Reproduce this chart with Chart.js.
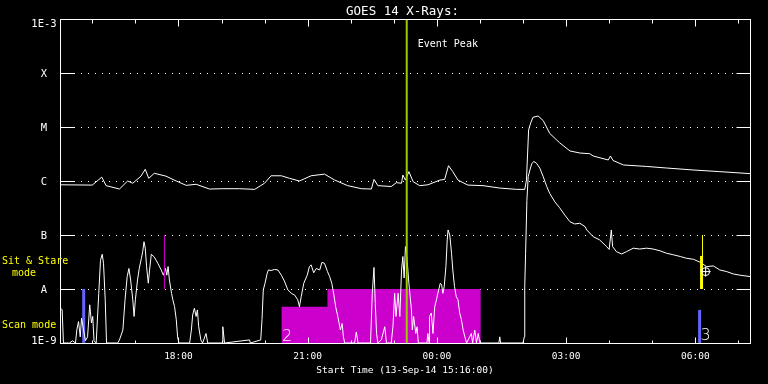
<!DOCTYPE html>
<html>
<head>
<meta charset="utf-8">
<script src="https://cdn.jsdelivr.net/npm/chart.js@4/dist/chart.umd.min.js"></script>
<style>
  html, body { margin: 0; padding: 0; background: #000; }
  canvas { display: block; }
</style>
</head>
<body>
<canvas id="goesChart" width="768" height="384"></canvas>
<script>
// hours of day, continuing past midnight (24 = 00:00 on 14-Sep)
const longTime = [15.24, 16.00, 16.22, 16.32, 16.63, 16.82, 16.94, 17.13, 17.23, 17.31,
    17.44, 17.71, 17.95, 18.18, 18.41, 18.72, 19.03, 19.42, 19.77, 20.00,
    20.15, 20.39, 20.58, 20.81, 21.08, 21.39, 21.63, 21.93, 22.25, 22.48,
    22.54, 22.63, 22.94, 23.06, 23.18, 23.21, 23.27, 23.35, 23.45, 23.60,
    23.79, 24.07, 24.18, 24.27, 24.37, 24.49, 24.72, 25.07, 25.46, 25.85,
    26.04, 26.08, 26.13, 26.17, 26.23, 26.35, 26.47, 26.62, 26.85, 27.09,
    27.32, 27.55, 27.63, 27.98, 28.03, 28.09, 28.33, 28.87, 29.33, 29.95,
    30.57, 31.27];
const longFlux = [8.5e-7, 8.4e-7, 1.18e-6, 8.2e-7, 7.1e-7, 1.0e-6, 9.1e-7, 1.23e-6, 1.65e-6, 1.12e-6,
    1.39e-6, 1.23e-6, 1.0e-6, 8.3e-7, 8.7e-7, 7.1e-7, 7.2e-7, 7.2e-7, 7.0e-7, 9.1e-7,
    1.25e-6, 1.25e-6, 1.12e-6, 1.0e-6, 1.25e-6, 1.34e-6, 1.04e-6, 8.2e-7, 7.2e-7, 7.1e-7,
    1.07e-6, 8.2e-7, 7.9e-7, 9.3e-7, 9.1e-7, 1.29e-6, 1.04e-6, 1.49e-6, 9.7e-7, 8.2e-7,
    8.5e-7, 1.04e-6, 1.07e-6, 1.92e-6, 1.49e-6, 1.04e-6, 8.4e-7, 8.2e-7, 7.4e-7, 7.0e-7,
    7.0e-7, 1.04e-6, 8.8e-6, 1.14e-5, 1.51e-5, 1.6e-5, 1.31e-5, 7.6e-6, 5.1e-6, 3.6e-6,
    3.3e-6, 3.2e-6, 2.9e-6, 2.45e-6, 2.9e-6, 2.4e-6, 1.98e-6, 1.86e-6, 1.74e-6, 1.6e-6,
    1.49e-6, 1.37e-6];

const shortTime = [15.23, 15.30, 15.33, 15.47, 15.54, 15.61, 15.64, 15.68, 15.72, 15.75,
    15.79, 15.84, 15.89, 15.94, 15.98, 16.01, 16.04, 16.09, 16.15, 16.19,
    16.23, 16.26, 16.30, 16.33, 16.59, 16.63, 16.71, 16.76, 16.81, 16.85,
    16.89, 16.94, 16.97, 17.00, 17.05, 17.09, 17.14, 17.17, 17.20, 17.23,
    17.26, 17.30, 17.33, 17.37, 17.44, 17.52, 17.60, 17.65, 17.70, 17.73,
    17.76, 17.79, 17.84, 17.87, 17.91, 17.95, 17.98, 18.01, 18.26, 18.30,
    18.33, 18.37, 18.41, 18.44, 18.47, 18.52, 18.56, 18.64, 18.68, 19.02,
    19.03, 19.07, 19.65, 19.67, 19.91, 19.94, 19.97, 20.01, 20.06, 20.09,
    20.15, 20.23, 20.31, 20.39, 20.46, 20.54, 20.62, 20.70, 20.77, 20.81,
    20.85, 20.91, 20.99, 21.04, 21.08, 21.14, 21.20, 21.28, 21.33, 21.39,
    21.46, 21.51, 21.56, 21.61, 21.65, 21.70, 21.76, 21.80, 21.83, 21.86,
    22.09, 22.13, 22.17, 22.46, 22.50, 22.54, 22.57, 22.60, 22.63, 22.71,
    22.79, 22.83, 22.94, 22.98, 23.02, 23.05, 23.10, 23.14, 23.18, 23.21,
    23.24, 23.27, 23.31, 23.35, 23.38, 23.41, 23.43, 23.46, 23.51, 23.54,
    23.57, 23.77, 23.79, 23.82, 23.83, 23.87, 23.91, 23.95, 23.99, 24.04,
    24.08, 24.11, 24.14, 24.17, 24.21, 24.24, 24.26, 24.30, 24.34, 24.37,
    24.41, 24.45, 24.49, 24.53, 24.57, 24.61, 24.65, 24.69, 24.80, 24.83,
    24.88, 24.92, 24.96, 25.00, 25.44, 25.46, 25.48, 26.00, 26.03, 26.04,
    26.06, 26.09, 26.12, 26.16, 26.20, 26.25, 26.31, 26.39, 26.47, 26.55,
    26.62, 26.74, 26.85, 26.97, 27.09, 27.20, 27.32, 27.44, 27.48, 27.63,
    27.78, 27.94, 28.00, 28.05, 28.08, 28.17, 28.29, 28.40, 28.56, 28.71,
    28.87, 29.02, 29.18, 29.33, 29.49, 29.65, 29.80, 29.96, 30.12, 30.26,
    30.42, 30.57, 30.73, 30.88, 31.04, 31.27];
const shortFlux = [4.7e-9, 4.1e-9, 1e-9, 1e-9, 1.1e-9, 1e-9, 1.74e-9, 2.5e-9, 1.3e-9, 2.9e-9,
    1.9e-9, 1.1e-9, 1.3e-9, 5.1e-9, 2.35e-9, 3.1e-9, 1.1e-9, 1e-9, 8.3e-9, 3.4e-8,
    4.4e-8, 3.0e-8, 6.3e-9, 1e-9, 1e-9, 1.14e-9, 1.74e-9, 6.3e-9, 1.7e-8, 2.4e-8,
    1.47e-8, 6.3e-9, 3.1e-9, 6.3e-9, 1.47e-8, 2.4e-8, 3.7e-8, 4.9e-8, 7.5e-8, 5.7e-8,
    2.6e-8, 1.28e-8, 2.25e-8, 4.4e-8, 3.9e-8, 3.0e-8, 2.25e-8, 1.8e-8, 2.4e-8, 1.8e-8,
    2.6e-8, 1.47e-8, 8.3e-9, 6.3e-9, 4.7e-9, 2.7e-9, 1.3e-9, 1e-9, 1e-9, 1.74e-9,
    3.3e-9, 4.4e-9, 3.1e-9, 4.1e-9, 2e-9, 1.14e-9, 1e-9, 1.5e-9, 1e-9, 1e-9,
    2e-9, 1e-9, 1.14e-9, 1e-9, 1.14e-9, 2.7e-9, 9.6e-9, 1.28e-8, 1.95e-8, 2.25e-8,
    2.2e-8, 2.3e-8, 2.25e-8, 1.8e-8, 1.4e-8, 9.6e-9, 8.3e-9, 7.7e-9, 6.3e-9, 4.7e-9,
    7.2e-9, 1.28e-8, 1.8e-8, 2.6e-8, 2.8e-8, 2.0e-8, 2.4e-8, 2.25e-8, 3.1e-8, 3.0e-8,
    2.1e-8, 1.7e-8, 1.28e-8, 7.7e-9, 4.7e-9, 3.1e-9, 1.74e-9, 2.3e-9, 1.3e-9, 1e-9,
    1e-9, 1.6e-9, 1e-9, 1e-9, 8.3e-9, 2.5e-8, 5.4e-9, 1.5e-9, 1e-9, 1.14e-9,
    2e-9, 1e-9, 1e-9, 2e-9, 8.3e-9, 3.1e-9, 8.3e-9, 3.1e-9, 2.25e-8, 4e-8,
    1.6e-8, 6.1e-8, 3.4e-8, 1.28e-8, 7.2e-9, 4.1e-9, 1.74e-9, 3.1e-9, 1.5e-9, 2e-9,
    1e-9, 1e-9, 1.5e-9, 1e-9, 3.1e-9, 3.6e-9, 1.5e-9, 4.7e-9, 6.3e-9, 9.6e-9,
    1.28e-8, 1.19e-8, 8.3e-9, 1.1e-8, 2.6e-8, 8.1e-8, 1.24e-7, 1.0e-7, 4.6e-8, 2.25e-8,
    1.1e-8, 7.2e-9, 6.3e-9, 3.6e-9, 2.7e-9, 1.74e-9, 1.3e-9, 1e-9, 1.5e-9, 1e-9,
    1.74e-9, 1e-9, 1.5e-9, 1e-9, 1e-9, 1.3e-9, 1e-9, 1e-9, 1.3e-9, 1.1e-8,
    4.6e-8, 4.4e-7, 1.2e-6, 1.6e-6, 2.07e-6, 2.3e-6, 2.15e-6, 1.73e-6, 1.2e-6, 7.9e-7,
    5.9e-7, 4.1e-7, 3.2e-7, 2.34e-7, 1.76e-7, 1.6e-7, 1.65e-7, 1.43e-7, 1.24e-7, 9.3e-8,
    8.1e-8, 6.1e-8, 5.4e-8, 1.24e-7, 6.1e-8, 4.9e-8, 4.45e-8, 4.9e-8, 5.7e-8, 5.5e-8,
    5.7e-8, 5.5e-8, 5.1e-8, 4.6e-8, 4.3e-8, 4.0e-8, 3.7e-8, 3.55e-8, 3.1e-8, 2.6e-8,
    2.67e-8, 2.25e-8, 2.1e-8, 1.9e-8, 1.8e-8, 1.7e-8];

// observing-mode blocks and markers
const ssBlockTime = [20.39, 21.46, 21.46, 25.02];
const ssBlockLevel = [4.7e-9, 4.7e-9, 1e-8, 1e-8];
const eventPeakTime = 23.3;
const magentaMarkTime = 17.675;
const magentaMarkRange = [1e-8, 1e-7];
const scanMarkTime = [15.80, 30.10];
const scanMarkTop = [1e-8, 4.1e-9];
const stareMarkTime = [30.145, 30.167];
const stareMarkTop = [4.1e-8, 1e-7];
const crossTime = [30.24];
const crossFlux = [2.1e-8];

const yTickValues = [1e-9, 1e-8, 1e-7, 1e-6, 1e-5, 1e-4, 1e-3];
const yTickLabels = ['1E-9', 'A', 'B', 'C', 'M', 'X', '1E-3'];
const xMajorHours = [18, 21, 24, 27, 30];
const xTickLabels = ['18:00', '21:00', '00:00', '03:00', '06:00'];

const MONO = '"DejaVu Sans Mono", monospace';

function pts(xs, ys) {
    return xs.map((x, i) => ({x: x, y: ys[i]}));
}

function vline(t, lo, hi, color, width, order) {
    return {
        data: [{x: t, y: lo}, {x: t, y: hi}],
        borderColor: color,
        borderWidth: width,
        pointRadius: 0,
        order: order
    };
}

const goesFrame = {
    id: 'goesFrame',
    beforeDatasetsDraw(chart) {
        const {ctx, chartArea: a, scales: {y}} = chart;
        ctx.save();
        ctx.strokeStyle = '#fff';
        ctx.lineWidth = 1;
        ctx.setLineDash([1, 6]);
        for (const v of yTickValues.slice(1, -1)) {
            const py = Math.round(y.getPixelForValue(v)) + 0.5;
            ctx.beginPath();
            ctx.moveTo(a.left, py);
            ctx.lineTo(a.right, py);
            ctx.stroke();
        }
        ctx.restore();
    },
    afterDraw(chart) {
        const {ctx, chartArea: a, scales: {x, y}} = chart;
        const L = a.left + 0.5, R = Math.round(a.right) + 0.5;
        const T = a.top + 0.5, B = Math.round(a.bottom) + 0.5;
        ctx.save();
        ctx.strokeStyle = '#fff';
        ctx.lineWidth = 1;
        ctx.strokeRect(L, T, R - L, B - T);

        ctx.beginPath();
        for (const v of yTickValues) {
            const py = Math.round(y.getPixelForValue(v)) + 0.5;
            ctx.moveTo(L, py); ctx.lineTo(L + 14, py);
            ctx.moveTo(R - 14, py); ctx.lineTo(R, py);
        }
        for (let h = 16; h <= 31; h++) {
            const px = Math.round(x.getPixelForValue(h)) + 0.5;
            const major = h % 3 === 0;
            ctx.moveTo(px, T); ctx.lineTo(px, T + (major ? 7 : 4));
            ctx.moveTo(px, B); ctx.lineTo(px, B - (major ? 6 : 3));
        }
        ctx.stroke();

        ctx.fillStyle = '#fff';
        ctx.textAlign = 'center';
        ctx.textBaseline = 'alphabetic';
        ctx.font = '10.5px ' + MONO;
        yTickValues.forEach((v, i) => {
            let py = y.getPixelForValue(v) + 4.3;
            if (i === 0) py = y.getPixelForValue(v) + 0.5;
            if (i === yTickValues.length - 1) py = y.getPixelForValue(v) + 7.5;
            ctx.fillText(yTickLabels[i], 44, py);
        });
        ctx.font = '9.5px ' + MONO;
        xMajorHours.forEach((h, i) => {
            ctx.fillText(xTickLabels[i], x.getPixelForValue(h), 359);
        });
        ctx.fillText('Start Time (13-Sep-14 15:16:00)', (a.left + a.right) / 2, 372.5);
        ctx.font = '12.5px ' + MONO;
        ctx.fillText('GOES 14 X-Rays:', 402.5, 14.5);

        ctx.textAlign = 'left';
        ctx.font = '10px ' + MONO;
        ctx.fillText('Event Peak', x.getPixelForValue(eventPeakTime) + 11, 47);

        ctx.fillStyle = '#ffff00';
        ctx.fillText('Sit & Stare', 2, 263.5);
        ctx.fillText('Scan mode', 2, 328);
        ctx.textAlign = 'center';
        ctx.fillText('mode', 24, 275.5);

        ctx.fillStyle = '#fff';
        ctx.textAlign = 'left';
        ctx.font = '200 16px "DejaVu Sans", sans-serif';
        ctx.fillText('2', x.getPixelForValue(ssBlockTime[0]) + 0.5, B - 3);
        ctx.fillText('3', x.getPixelForValue(scanMarkTime[1]) + 1, B - 4);
        ctx.restore();
    }
};

const datasets = [
    vline(eventPeakTime, 1e-9, 1e-3, '#9ccc00', 2, 0),
    {
        data: pts(crossTime, crossFlux),
        showLine: false,
        pointStyle: 'circle',
        pointRadius: 4,
        pointBorderColor: '#fff',
        pointBackgroundColor: 'rgba(0,0,0,0)',
        pointBorderWidth: 1,
        order: 1
    },
    {
        data: pts(crossTime, crossFlux),
        showLine: false,
        pointStyle: 'cross',
        pointRadius: 5,
        pointBorderColor: '#fff',
        pointBorderWidth: 1,
        order: 1
    },
    vline(stareMarkTime[0], 1e-8, stareMarkTop[0], '#ffff00', 3, 2),
    vline(stareMarkTime[1], 1e-8, stareMarkTop[1], '#ffff00', 1, 2),
    vline(magentaMarkTime, magentaMarkRange[0], magentaMarkRange[1], '#cc00cc', 1, 2),
    {
        data: pts(longTime, longFlux),
        borderColor: '#fff',
        borderWidth: 1,
        pointRadius: 0,
        order: 3
    },
    {
        data: pts(shortTime, shortFlux),
        borderColor: '#fff',
        borderWidth: 1,
        pointRadius: 0,
        order: 3
    },
    vline(scanMarkTime[0], 1e-9, scanMarkTop[0], '#6464ff', 3, 4),
    vline(scanMarkTime[1], 1e-9, scanMarkTop[1], '#6464ff', 3, 4),
    {
        data: pts(ssBlockTime, ssBlockLevel),
        fill: 'start',
        backgroundColor: '#cc00cc',
        borderColor: '#cc00cc',
        borderWidth: 0,
        pointRadius: 0,
        order: 5
    }
];

new Chart(document.getElementById('goesChart'), {
    type: 'line',
    data: {datasets: datasets},
    options: {
        responsive: false,
        animation: false,
        devicePixelRatio: 1,
        layout: {padding: {left: 60, right: 18, top: 19, bottom: 41}},
        scales: {
            x: {type: 'linear', min: 15.25, max: 31.27, display: false},
            y: {type: 'logarithmic', min: 1e-9, max: 1e-3, display: false}
        },
        plugins: {
            legend: {display: false},
            tooltip: {enabled: false}
        }
    },
    plugins: [goesFrame]
});
</script>
</body>
</html>
